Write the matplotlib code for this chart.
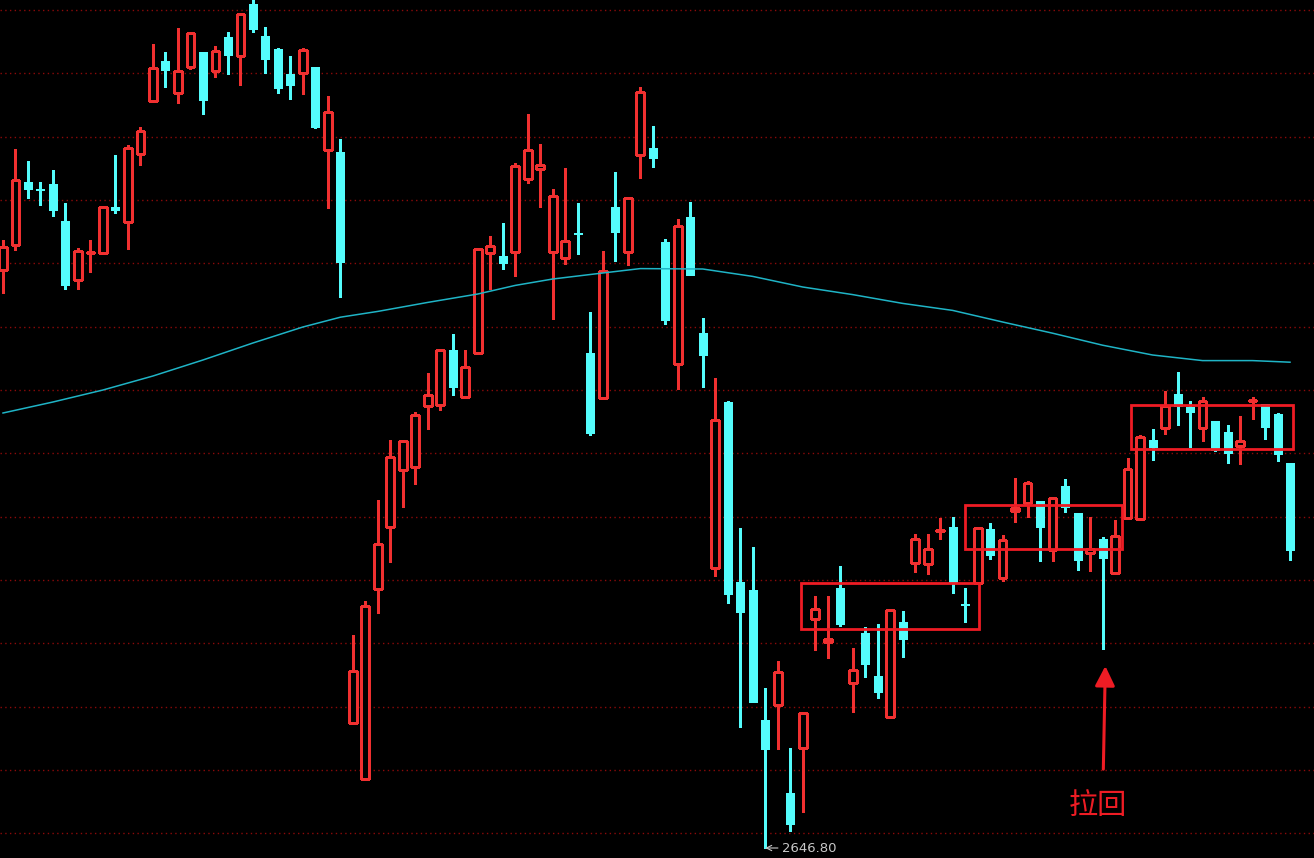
import matplotlib
matplotlib.use('Agg')
import matplotlib.pyplot as plt
from matplotlib.patches import Rectangle

plt.rcParams['font.family'] = ['Noto Sans CJK SC', 'DejaVu Sans']

# ---------------- data (daily OHLC) ----------------
opens = [2935.8, 2948.3, 2979.9, 2976.1, 2978.7, 2960.5, 2930.7, 2944.1, 2944.5, 2967.2,
         2959.7, 2993.8, 3020.2, 3040.5, 3024.5, 3037.5, 3045.0, 3035.2, 3052.5, 3042.7,
         3068.7, 3053.0, 3046.2, 3033.7, 3034.5, 3037.3, 2995.7, 2995.0, 2709.4, 2681.3,
         2776.4, 2807.1, 2835.6, 2837.1, 2867.6, 2868.1, 2896.0, 2872.1, 2894.5, 2944.5,
         2942.8, 2945.0, 2981.3, 2986.5, 2945.0, 2942.0, 2954.3, 2894.2, 2872.0, 2967.3,
         2945.0, 2993.2, 2996.7, 2949.8, 2888.8, 2962.3, 2904.2, 2786.8, 2869.8, 2779.7,
         2775.7, 2711.0, 2718.2, 2674.2, 2696.8, 2761.3, 2749.7, 2776.7, 2729.5, 2754.2,
         2732.8, 2712.5, 2759.7, 2789.5, 2788.8, 2805.5, 2807.2, 2768.9, 2779.2, 2806.5,
         2782.0, 2815.2, 2819.5, 2820.3, 2795.8, 2828.0, 2814.2, 2794.5, 2801.2, 2784.5,
         2812.0, 2811.2, 2850.8, 2857.0, 2873.7, 2867.5, 2857.0, 2860.3, 2854.8, 2847.7,
         2870.4, 2868.8, 2863.7, 2839.2]
highs = [2950.8, 2996.2, 2990.5, 2979.9, 2985.7, 2969.3, 2946.7, 2950.7, 2967.2, 2993.2,
         2998.2, 3007.2, 3048.7, 3045.0, 3056.7, 3054.8, 3045.0, 3048.0, 3054.8, 3063.7,
         3072.3, 3057.3, 3046.8, 3043.0, 3046.7, 3037.3, 3023.0, 3001.2, 2753.5, 2770.1,
         2820.6, 2851.0, 2850.3, 2864.8, 2884.4, 2896.0, 2903.7, 2896.0, 2946.5, 2953.0,
         2959.2, 2989.2, 3013.7, 2998.7, 2976.2, 2986.7, 2969.2, 2914.8, 2945.5, 2985.0,
         2971.7, 3027.5, 3008.0, 2951.5, 2961.2, 2969.8, 2911.7, 2881.7, 2870.5, 2806.7,
         2797.2, 2726.7, 2740.3, 2696.7, 2714.7, 2772.8, 2772.7, 2788.0, 2746.7, 2757.3,
         2759.0, 2765.8, 2765.3, 2803.7, 2803.7, 2811.7, 2812.2, 2776.7, 2807.0, 2809.2,
         2803.5, 2831.7, 2830.3, 2820.3, 2822.0, 2831.2, 2814.2, 2812.2, 2802.2, 2810.8,
         2841.7, 2853.5, 2856.2, 2875.5, 2884.8, 2870.5, 2872.2, 2860.3, 2858.2, 2862.8,
         2872.3, 2868.8, 2864.3, 2839.2]
lows = [2924.3, 2945.8, 2971.8, 2968.2, 2962.9, 2926.2, 2926.2, 2934.9, 2943.8, 2964.5,
        2946.2, 2988.2, 3020.2, 3027.5, 3019.5, 3036.3, 3013.8, 3032.5, 3033.8, 3028.2,
        3055.0, 3034.3, 3024.3, 3021.3, 3023.7, 3007.0, 2967.0, 2922.3, 2709.4, 2681.3,
        2764.4, 2789.9, 2817.4, 2828.9, 2856.4, 2865.6, 2873.1, 2872.1, 2894.5, 2926.3,
        2936.3, 2932.9, 2979.5, 2967.5, 2911.2, 2938.8, 2943.7, 2853.2, 2872.0, 2940.5,
        2938.2, 2982.0, 2987.5, 2908.7, 2876.2, 2933.2, 2877.5, 2783.0, 2769.3, 2707.5,
        2720.0, 2646.8, 2696.2, 2655.5, 2665.0, 2745.7, 2742.0, 2758.0, 2714.7, 2732.5,
        2721.7, 2711.7, 2742.5, 2785.0, 2783.8, 2801.2, 2774.2, 2760.0, 2779.2, 2791.2,
        2780.5, 2809.8, 2812.5, 2790.5, 2790.5, 2815.0, 2785.7, 2785.5, 2746.2, 2783.7,
        2812.0, 2810.7, 2840.7, 2853.8, 2858.2, 2847.2, 2850.5, 2845.2, 2839.3, 2838.7,
        2861.3, 2851.2, 2840.5, 2790.7]
closes = [2947.3, 2980.9, 2976.3, 2975.6, 2965.7, 2928.2, 2945.3, 2944.6, 2967.2, 2965.7,
          2996.7, 3005.3, 3036.7, 3035.7, 3035.5, 3054.2, 3020.7, 3045.3, 3043.3, 3063.7,
          3056.3, 3041.3, 3027.0, 3028.2, 3046.0, 3007.5, 3014.8, 2940.0, 2735.1, 2767.8,
          2799.0, 2842.1, 2850.3, 2863.5, 2873.3, 2896.0, 2877.4, 2887.1, 2946.5, 2947.8,
          2939.5, 2987.8, 2996.0, 2988.5, 2972.8, 2950.3, 2953.8, 2854.5, 2935.2, 2955.0,
          2971.7, 3024.7, 2992.0, 2910.7, 2957.8, 2933.2, 2893.2, 2861.0, 2773.8, 2765.0,
          2720.0, 2696.2, 2734.7, 2658.7, 2714.2, 2766.5, 2751.3, 2758.7, 2735.8, 2738.7,
          2724.8, 2765.8, 2751.3, 2801.5, 2796.5, 2806.0, 2779.8, 2768.4, 2807.0, 2793.2,
          2800.8, 2817.0, 2829.5, 2807.3, 2822.0, 2817.5, 2790.7, 2796.2, 2791.8, 2802.7,
          2836.5, 2852.2, 2847.2, 2867.8, 2867.8, 2865.0, 2870.2, 2845.7, 2844.5, 2850.3,
          2870.9, 2857.5, 2843.7, 2795.7]

# moving average line, read at sampled candle positions
ma_index = [0, 4, 8, 12, 16, 20, 24, 27, 30, 34, 38, 41, 44, 48, 51, 56, 60, 64,
            68, 72, 76, 80, 84, 88, 92, 96, 100, 103]
ma_values = [2864.3, 2869.8, 2875.8, 2882.8, 2890.8, 2899.3, 2907.3, 2912.2, 2915.1,
             2919.6, 2923.8, 2928.1, 2931.3, 2934.3, 2936.5, 2936.3, 2932.6, 2927.3,
             2923.5, 2919.1, 2915.6, 2909.8, 2904.2, 2898.2, 2893.3, 2890.5, 2890.5, 2889.7]

grid_levels = [3065.8, 3034.1, 3002.5, 2970.8, 2939.1, 2907.5, 2875.8, 2844.1,
               2812.5, 2780.8, 2749.1, 2717.5, 2685.8, 2654.1]

low_label = "2646.80"
note_text = "拉回"

# ---------------- styles ----------------
RED = '#F03030'
CYAN = '#54FCFC'
MA_COLOR = '#1FB4C6'
BOX_RED = '#EE1C24'
GRID = '#8C0A0A'

fig = plt.figure(figsize=(13.14, 8.58), dpi=100)
fig.patch.set_facecolor('black')
ax = fig.add_axes([0, 0, 1, 1])
ax.set_facecolor('black')
ax.set_xlim(-0.24, 104.92)
ax.set_ylim(2641.8, 3070.8)
ax.axis('off')

for g in grid_levels:
    ax.axhline(g, color=GRID, lw=1.0, ls=(0, (1, 2.4)), zorder=0)

w_red = 0.62
w_cyan = 0.64
for i, (o, h, l, c) in enumerate(zip(opens, highs, lows, closes)):
    top, bot = max(o, c), min(o, c)
    hgt = max(top - bot, 0.35)
    if c >= o:
        ax.vlines(i, top, h, color=RED, lw=0.75, zorder=2, antialiased=False)
        ax.vlines(i, l, bot, color=RED, lw=0.75, zorder=2, antialiased=False)
        ax.add_patch(Rectangle((i - w_red / 2, bot), w_red, hgt, facecolor='black',
                               edgecolor=RED, lw=0.85, joinstyle='miter',
                               zorder=3, antialiased=False))
    else:
        ax.vlines(i, l, h, color=CYAN, lw=0.75, zorder=2, antialiased=False)
        ax.add_patch(Rectangle((i - w_cyan / 2, bot), w_cyan, hgt, facecolor=CYAN,
                               edgecolor=CYAN, lw=0.5, joinstyle='miter',
                               zorder=3, antialiased=False))

ax.plot(ma_index, ma_values, color=MA_COLOR, lw=1.1, zorder=4)

# consolidation boxes
for (x0, x1, y0, y1) in [(63.86, 78.07, 2756.3, 2779.15),
                         (77.01, 89.53, 2796.55, 2818.55),
                         (90.25, 103.27, 2846.55, 2868.55)]:
    ax.add_patch(Rectangle((x0, y0), x1 - x0, y1 - y0, fill=False,
                           edgecolor=BOX_RED, lw=2.0, joinstyle='miter', zorder=6))

# arrow + note
ax.annotate('', xy=(88.22, 2737.8), xytext=(88.06, 2686.2),
            arrowprops=dict(arrowstyle='-|>,head_length=0.6,head_width=0.3',
                            mutation_scale=20, color=BOX_RED, lw=2.2,
                            shrinkA=0, shrinkB=0), zorder=6)
ax.text(87.63, 2667.3, note_text, color=BOX_RED, fontsize=21,
        ha='center', va='center', zorder=6)

# low marker
ax.annotate(low_label, xy=(61.0, 2646.8), xytext=(62.35, 2646.8),
            color='#C8C8C8', fontsize=9.5, family=['DejaVu Sans'],
            ha='left', va='center',
            arrowprops=dict(arrowstyle='->', color='#C8C8C8', lw=0.8,
                            shrinkA=1, shrinkB=0), zorder=6)

fig.savefig('out.png', dpi=100, facecolor='black')
